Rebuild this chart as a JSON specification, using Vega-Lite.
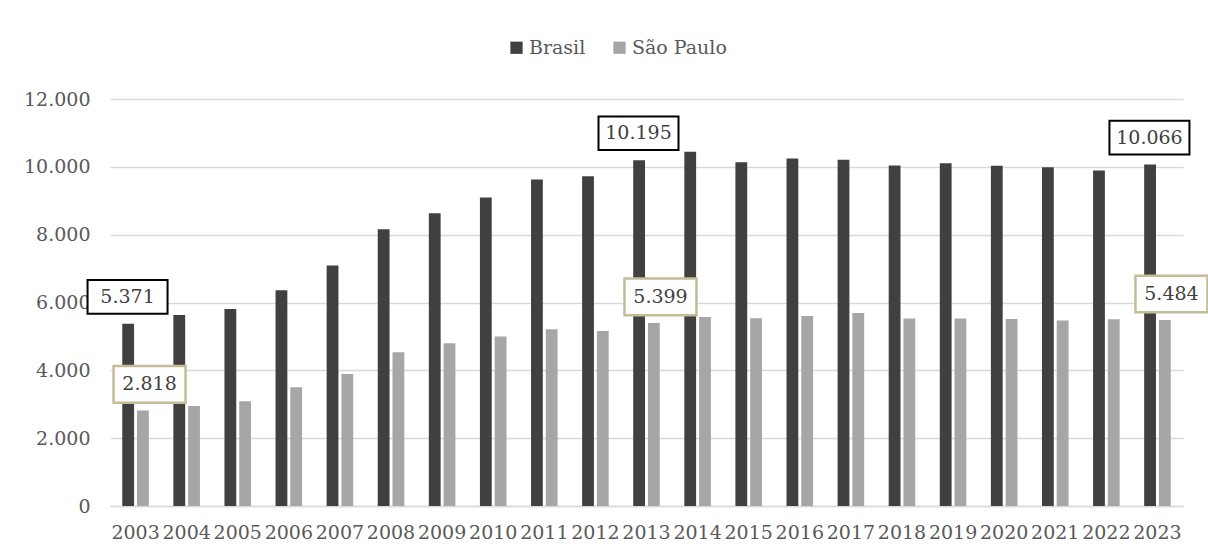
{
  "$schema": "https://vega.github.io/schema/vega-lite/v6.json",
  "width": 1073,
  "height": 407,
  "autosize": {"type": "none"},
  "padding": {"left": 110, "top": 99, "right": 25, "bottom": 49},
  "background": "white",
  "config": {
    "font": "DejaVu Serif",
    "view": {"stroke": null},
    "locale": {"number": {"decimal": ",", "thousands": ".", "grouping": [3], "currency": ["R$", ""]}},
    "axis": {"labelFont": "DejaVu Serif", "labelColor": "#595959", "title": null},
    "legend": {"labelFont": "DejaVu Serif"},
    "text": {"font": "DejaVu Serif"}
  },
  "data": {
    "values": [
      {"year": "2003", "series": "Brasil", "value": 5371},
      {"year": "2004", "series": "Brasil", "value": 5630},
      {"year": "2005", "series": "Brasil", "value": 5811},
      {"year": "2006", "series": "Brasil", "value": 6363},
      {"year": "2007", "series": "Brasil", "value": 7088},
      {"year": "2008", "series": "Brasil", "value": 8162},
      {"year": "2009", "series": "Brasil", "value": 8634},
      {"year": "2010", "series": "Brasil", "value": 9094},
      {"year": "2011", "series": "Brasil", "value": 9625},
      {"year": "2012", "series": "Brasil", "value": 9725},
      {"year": "2013", "series": "Brasil", "value": 10195},
      {"year": "2014", "series": "Brasil", "value": 10442},
      {"year": "2015", "series": "Brasil", "value": 10138},
      {"year": "2016", "series": "Brasil", "value": 10245},
      {"year": "2017", "series": "Brasil", "value": 10206},
      {"year": "2018", "series": "Brasil", "value": 10038},
      {"year": "2019", "series": "Brasil", "value": 10108},
      {"year": "2020", "series": "Brasil", "value": 10029},
      {"year": "2021", "series": "Brasil", "value": 9990},
      {"year": "2022", "series": "Brasil", "value": 9891},
      {"year": "2023", "series": "Brasil", "value": 10066},
      {"year": "2003", "series": "São Paulo", "value": 2818},
      {"year": "2004", "series": "São Paulo", "value": 2950},
      {"year": "2005", "series": "São Paulo", "value": 3088},
      {"year": "2006", "series": "São Paulo", "value": 3501},
      {"year": "2007", "series": "São Paulo", "value": 3894},
      {"year": "2008", "series": "São Paulo", "value": 4533},
      {"year": "2009", "series": "São Paulo", "value": 4799},
      {"year": "2010", "series": "São Paulo", "value": 4995},
      {"year": "2011", "series": "São Paulo", "value": 5212},
      {"year": "2012", "series": "São Paulo", "value": 5162},
      {"year": "2013", "series": "São Paulo", "value": 5399},
      {"year": "2014", "series": "São Paulo", "value": 5575},
      {"year": "2015", "series": "São Paulo", "value": 5536},
      {"year": "2016", "series": "São Paulo", "value": 5605},
      {"year": "2017", "series": "São Paulo", "value": 5693},
      {"year": "2018", "series": "São Paulo", "value": 5525},
      {"year": "2019", "series": "São Paulo", "value": 5525},
      {"year": "2020", "series": "São Paulo", "value": 5516},
      {"year": "2021", "series": "São Paulo", "value": 5466},
      {"year": "2022", "series": "São Paulo", "value": 5506},
      {"year": "2023", "series": "São Paulo", "value": 5484}
    ]
  },
  "encoding": {
    "x": {
      "field": "year", "type": "ordinal",
      "scale": {"paddingInner": 0.48, "paddingOuter": 0.24},
      "axis": {"labelAngle": 0, "labelFontSize": 19, "labelPadding": 17, "ticks": false, "domainColor": "#d9d9d9", "domainWidth": 1.5, "grid": false}
    },
    "y": {
      "field": "value", "type": "quantitative",
      "scale": {"domain": [0, 12000]},
      "axis": {"values": [0, 2000, 4000, 6000, 8000, 10000, 12000], "format": ",d", "labelFontSize": 19, "labelPadding": 20, "ticks": false, "domain": false, "gridColor": "#d9d9d9", "gridWidth": 1.5}
    }
  },
  "layer": [
    {
      "mark": {"type": "bar"},
      "encoding": {
        "xOffset": {"field": "series", "type": "nominal", "scale": {"paddingInner": 0.2, "paddingOuter": 0}},
        "color": {
          "field": "series", "type": "nominal",
          "scale": {"domain": ["Brasil", "São Paulo"], "range": ["#404040", "#a6a6a6"]},
          "legend": {"title": null, "orient": "none", "legendX": 397, "legendY": -61, "direction": "horizontal", "symbolType": "square", "symbolSize": 150, "symbolStrokeWidth": 0, "labelFontSize": 19, "labelColor": "#595959", "labelOffset": 3, "columnPadding": 24}
        }
      }
    },
    {
      "transform": [{"filter": {"field": "series", "equal": "Brasil"}}, {"filter": {"field": "year", "oneOf": ["2003", "2013", "2023"]}}],
      "mark": {"type": "point", "shape": "M-1,-0.42H1V0.42H-1Z", "size": 6400, "filled": false, "fill": "white", "fillOpacity": 1, "stroke": "black", "strokeWidth": 2, "opacity": 1, "xOffset": -8, "yOffset": -27}
    },
    {
      "transform": [{"filter": {"field": "series", "equal": "Brasil"}}, {"filter": {"field": "year", "oneOf": ["2003", "2013", "2023"]}}],
      "mark": {"type": "text", "fontSize": 19, "color": "#404040", "baseline": "middle", "align": "center", "dx": -8, "dy": -27},
      "encoding": {"text": {"field": "value", "type": "quantitative", "format": ",d"}}
    },
    {
      "transform": [{"filter": {"field": "series", "equal": "São Paulo"}}, {"filter": {"field": "year", "oneOf": ["2003", "2013", "2023"]}}],
      "mark": {"type": "point", "shape": "M-1,-0.51H1V0.51H-1Z", "size": 5184, "filled": false, "fill": "white", "fillOpacity": 1, "stroke": "#c4bd97", "strokeWidth": 2.5, "opacity": 1, "xOffset": 14, "yOffset": -26}
    },
    {
      "transform": [{"filter": {"field": "series", "equal": "São Paulo"}}, {"filter": {"field": "year", "oneOf": ["2003", "2013", "2023"]}}],
      "mark": {"type": "text", "fontSize": 19, "color": "#404040", "baseline": "middle", "align": "center", "dx": 14, "dy": -26},
      "encoding": {"text": {"field": "value", "type": "quantitative", "format": ",d"}}
    }
  ]
}
